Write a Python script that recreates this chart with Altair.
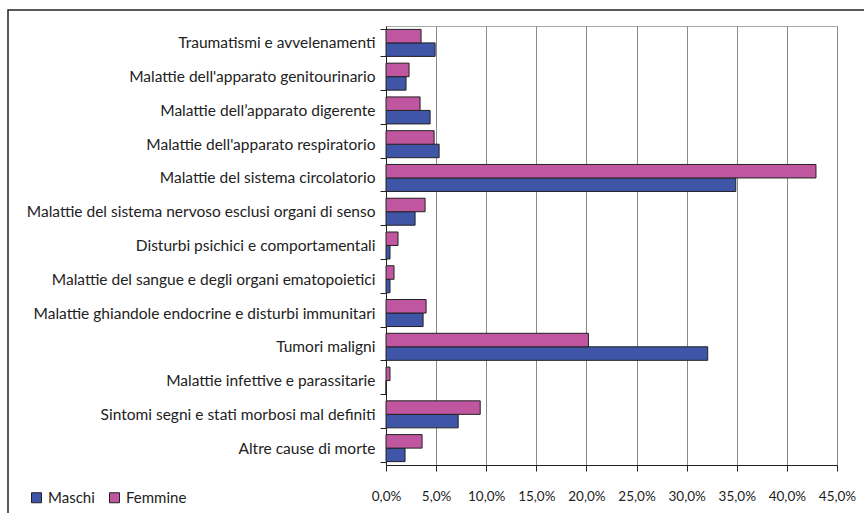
import altair as alt
import pandas as pd

# Causes of death, listed from top to bottom of the chart
categories = [
    "Traumatismi e avvelenamenti",
    "Malattie dell'apparato genitourinario",
    "Malattie dell\u2019apparato digerente",
    "Malattie dell'apparato respiratorio",
    "Malattie del sistema circolatorio",
    "Malattie del sistema nervoso esclusi organi di senso",
    "Disturbi psichici e comportamentali",
    "Malattie del sangue e degli organi ematopoietici",
    "Malattie ghiandole endocrine e disturbi immunitari",
    "Tumori maligni",
    "Malattie infettive e parassitarie",
    "Sintomi segni e stati morbosi mal definiti",
    "Altre cause di morte",
]

# Share of deaths (%) by cause
maschi = [4.9, 2.0, 4.4, 5.3, 34.9, 2.9, 0.4, 0.4, 3.7, 32.1, 0.0, 7.2, 1.9]
femmine = [3.5, 2.3, 3.4, 4.8, 42.9, 3.9, 1.2, 0.8, 4.0, 20.2, 0.4, 9.4, 3.6]

sexes = ["Maschi", "Femmine"]
colors = ["#3f55a8", "#c0569f"]
x_ticks = [0, 5, 10, 15, 20, 25, 30, 35, 40, 45]

rows = []
for c, m, f in zip(categories, maschi, femmine):
    rows.append({"causa": c, "sesso": "Maschi", "valore": m})
    rows.append({"causa": c, "sesso": "Femmine", "valore": f})
df = pd.DataFrame(rows)

FONT = "Lato"

bars = alt.Chart(df).mark_bar(stroke="#222222", strokeWidth=1).encode(
    x=alt.X(
        "valore:Q",
        scale=alt.Scale(domain=[0, 45], nice=False),
        axis=alt.Axis(
            values=x_ticks,
            title=None,
            grid=True,
            gridColor="#8a8a8a",
            gridWidth=1,
            domainColor="#222222",
            tickColor="#222222",
            tickSize=6,
            labelExpr="replace(format(datum.value, '.1f'), '.', ',') + '%'",
            labelFont=FONT,
            labelFontSize=13.5,
            labelColor="#222222",
            labelPadding=18,
            labelOverlap=False,
            labelFlush=False,
            labelBound=False,
        ),
    ),
    y=alt.Y(
        "causa:N",
        sort=categories,
        scale=alt.Scale(paddingInner=0.2, paddingOuter=0.1),
        axis=alt.Axis(
            title=None,
            tickBand="extent",
            tickSize=6,
            tickColor="#222222",
            domainColor="#222222",
            labelFont=FONT,
            labelFontSize=15.5,
            labelColor="#222222",
            labelPadding=5,
            labelLimit=400,
        ),
    ),
    yOffset=alt.YOffset("sesso:N", sort=["Femmine", "Maschi"], scale=alt.Scale(paddingInner=0)),
    color=alt.Color(
        "sesso:N",
        scale=alt.Scale(domain=sexes, range=colors),
        legend=alt.Legend(
            title=None,
            orient="none",
            direction="horizontal",
            legendX=-357,
            legendY=464,
            symbolType="square",
            symbolSize=100,
            symbolStrokeColor="#222222",
            symbolStrokeWidth=1,
            symbolOpacity=1,
            labelFont=FONT,
            labelFontSize=15,
            labelColor="#222222",
            columnPadding=12,
            symbolOffset=0,
        ),
    ),
)

# Outer frame around the whole figure
frame = alt.Chart(pd.DataFrame({"k": [0]})).mark_rect(
    fill=None, stroke="#222222", strokeWidth=1.5
).encode(
    x=alt.value(-378), x2=alt.value(500), y=alt.value(-16), y2=alt.value(510)
)

chart = (
    alt.layer(bars, frame)
    .properties(
        width=451,
        height=439,
        autosize=alt.AutoSizeParams(type="none"),
        padding={"left": 386, "top": 26, "right": 27, "bottom": 48},
        background="white",
    )
    .configure_view(stroke="#a8a8a8", strokeWidth=1)
)

chart.save("out.html", embed_options={"renderer": "svg", "actions": False})
